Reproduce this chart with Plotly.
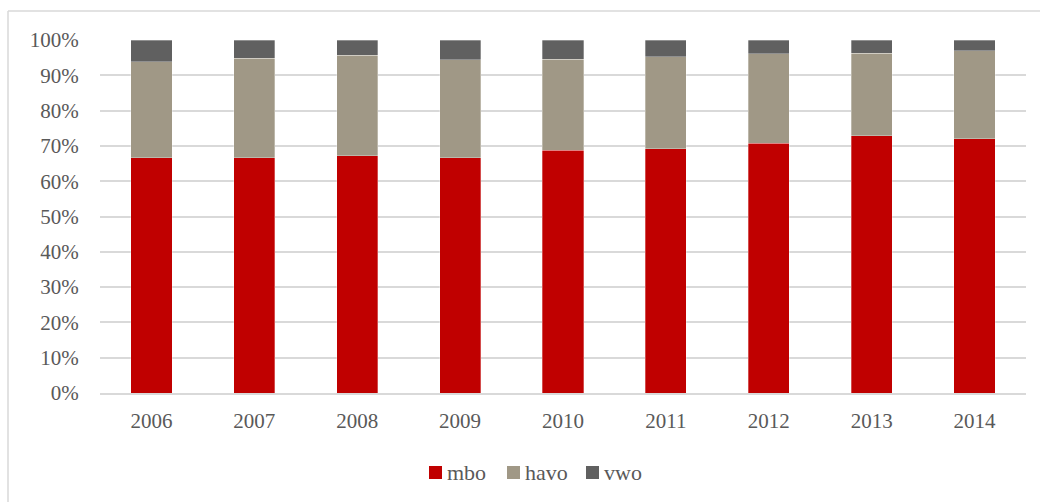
import plotly.graph_objects as go

years = ["2006", "2007", "2008", "2009", "2010", "2011", "2012", "2013", "2014"]
mbo = [66.7, 66.7, 67.2, 66.6, 68.8, 69.2, 70.8, 72.9, 72.0]
havo = [27.2, 28.2, 28.5, 27.8, 25.8, 26.1, 25.3, 23.4, 25.0]
vwo = [6.1, 5.1, 4.3, 5.6, 5.4, 4.7, 3.9, 3.7, 3.0]
series_names = ["mbo", "havo", "vwo"]
colors = ["#C00000", "#A09886", "#606060"]

fig = go.Figure()
for name, vals, col in zip(series_names, [mbo, havo, vwo], colors):
    fig.add_trace(go.Bar(name=name, x=years, y=vals, marker_color=col,
                         marker_line_width=0.6, marker_line_color="rgba(255,255,255,0.5)",
                         showlegend=False))

font_family = "Liberation Serif"
txt = "#595959"

L, T, W, H = 100, 40, 926, 353


def px(x):
    return (x - L) / W


def py(y):
    return (T + H - y) / H


shapes = [
    dict(type="line", xref="paper", yref="paper", x0=px(8), x1=px(1060), y0=py(11), y1=py(11),
         line=dict(color="#d9d9d9", width=1.5)),
    dict(type="line", xref="paper", yref="paper", x0=px(8), x1=px(8), y0=py(11), y1=py(520),
         line=dict(color="#d9d9d9", width=1.5)),
]
annotations = []
legend_sq_left = [429, 507, 586]
for name, col, x0 in zip(series_names, colors, legend_sq_left):
    shapes.append(dict(type="rect", xref="paper", yref="paper",
                       x0=px(x0), x1=px(x0 + 13), y0=py(479), y1=py(466),
                       fillcolor=col, line=dict(width=0)))
    annotations.append(dict(text=name, xref="paper", yref="paper", x=px(x0 + 16), y=py(472.5),
                            xanchor="left", yanchor="middle", showarrow=False,
                            font=dict(family=font_family, size=22, color=txt)))

fig.update_layout(
    barmode="stack",
    barnorm="percent",
    bargap=0.6,
    width=1040, height=502,
    margin=dict(l=L, r=1040 - L - W, t=T, b=502 - T - H),
    paper_bgcolor="white", plot_bgcolor="white",
    font=dict(family=font_family, size=21, color=txt),
    xaxis=dict(showgrid=False, showline=True, linecolor="#d9d9d9", linewidth=1.5,
               ticks="outside", ticklen=8, tickcolor="rgba(0,0,0,0)",
               tickfont=dict(size=21, color=txt)),
    yaxis=dict(range=[0, 100], dtick=10, ticksuffix="%", showgrid=True,
               gridcolor="#d9d9d9", gridwidth=1.5, zeroline=False,
               ticks="outside", ticklen=16, tickcolor="rgba(0,0,0,0)",
               tickfont=dict(size=21, color=txt)),
    shapes=shapes,
    annotations=annotations,
)

fig.write_html("out.html", config={"displayModeBar": False},
               post_script="document.body.style.margin='0';document.body.style.overflow='hidden';")
